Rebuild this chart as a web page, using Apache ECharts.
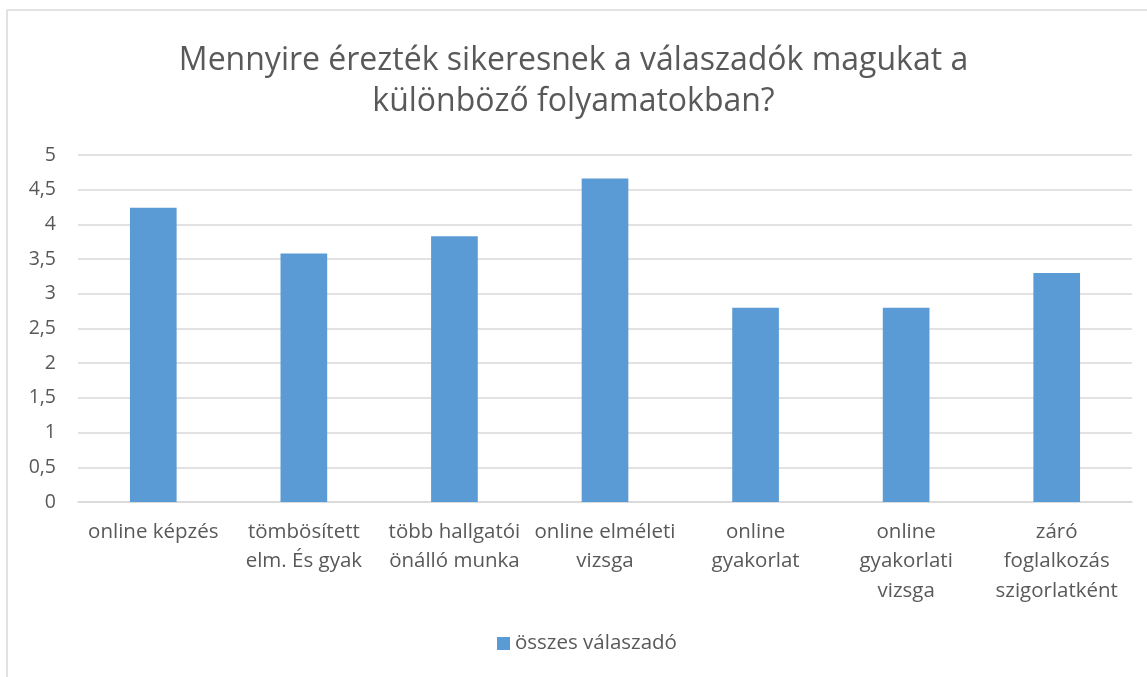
<!DOCTYPE html>
<html>
<head>
<meta charset="utf-8">
<script src="https://cdn.jsdelivr.net/npm/echarts@6/dist/echarts.min.js"></script>
<style>
  html, body { margin: 0; padding: 0; background: #fff; }
  #chart { width: 1147px; height: 677px; }
</style>
</head>
<body>
<div id="chart"></div>
<script>
// adatok
const categories = [
  'online képzés',
  'tömbösített\nelm. És gyak',
  'több hallgatói\nönálló munka',
  'online elméleti\nvizsga',
  'online\ngyakorlat',
  'online\ngyakorlati\nvizsga',
  'záró\nfoglalkozás\nszigorlatként'
]
const seriesName = 'összes válaszadó'
const values = [4.24, 3.58, 3.83, 4.66, 2.80, 2.80, 3.30]

const font = '"Open Sans", Lato, sans-serif'
const grey = '#595959'

let myChart = echarts.init(document.getElementById('chart'))
let option = {
  animation: false,
  color: ['#5B9BD5'],
  textStyle: { fontFamily: font },
  title: {
    text: 'Mennyire érezték sikeresnek a válaszadók magukat a\nkülönböző folyamatokban?',
    left: 'center',
    top: 35,
    textStyle: { fontFamily: font, fontSize: 32, fontWeight: 'normal', color: grey, lineHeight: 41 }
  },
  legend: {
    data: [seriesName],
    bottom: 18,
    left: 492,
    itemWidth: 13,
    itemHeight: 13,
    itemGap: 6,
    icon: 'rect',
    textStyle: { fontFamily: font, fontSize: 20.5, color: grey }
  },
  grid: {
    top: 155,
    left: 78,
    right: 15,
    bottom: 175
  },
  xAxis: {
    type: 'category',
    data: categories,
    axisTick: { show: false },
    axisLine: { lineStyle: { color: '#D9D9D9', width: 1.5 } },
    axisLabel: {
      color: grey,
      fontFamily: font,
      fontSize: 20.5,
      lineHeight: 29.5,
      margin: 15,
      interval: 0
    }
  },
  yAxis: {
    type: 'value',
    min: 0,
    max: 5,
    interval: 0.5,
    axisLine: { show: false },
    axisTick: { show: false },
    axisLabel: {
      color: grey,
      fontFamily: font,
      fontSize: 19.5,
      margin: 22,
      formatter: v => String(v).replace('.', ',')
    },
    splitLine: { lineStyle: { color: '#D9D9D9', width: 1.5 } }
  },
  series: [
    {
      name: seriesName,
      type: 'bar',
      barWidth: '31%',
      data: values
    }
  ],
  graphic: [
    { type: 'line', shape: { x1: 7, y1: 10, x2: 1147, y2: 10 }, style: { stroke: '#D9D9D9', lineWidth: 1.5 } },
    { type: 'line', shape: { x1: 7, y1: 10, x2: 7, y2: 677 }, style: { stroke: '#D9D9D9', lineWidth: 1.5 } }
  ]
}
myChart.setOption(option, true)
</script>
</body>
</html>
